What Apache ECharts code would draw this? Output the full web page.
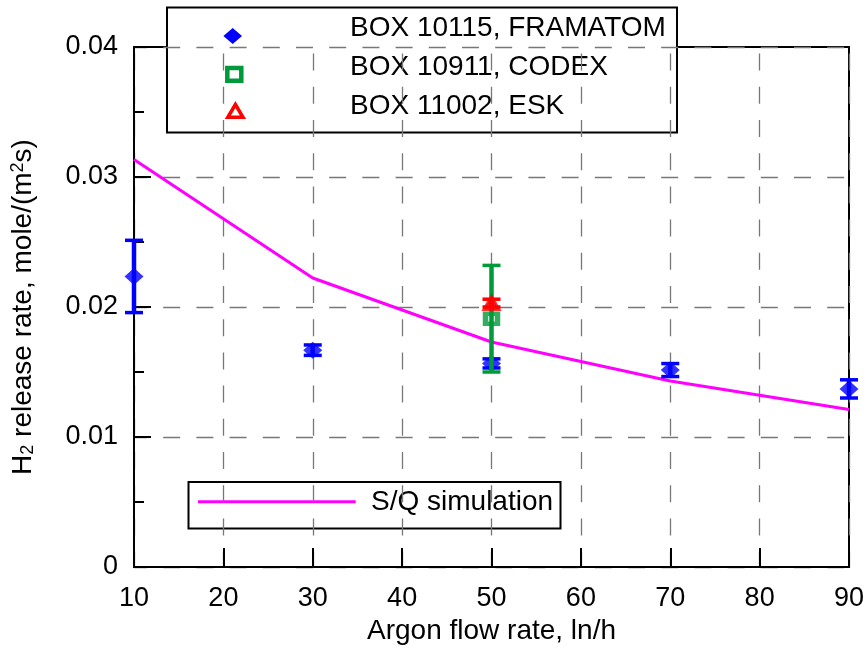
<!DOCTYPE html>
<html>
<head>
<meta charset="utf-8">
<script src="https://cdn.jsdelivr.net/npm/echarts@6/dist/echarts.min.js"></script>
<style>
  html, body { margin: 0; padding: 0; background: #fff; }
  #chart { width: 867px; height: 648px; }
</style>
</head>
<body>
<div id="chart"></div>
<script>
// Argon flow rates (ln/h) at which the boxes were measured
const flowRates = [10, 30, 50, 70, 90];

// BOX 10115, FRAMATOM: H2 release rate and its ± error
const framatomX = [10, 30, 50, 70, 90];
const framatomY = [0.02235, 0.01668, 0.01566, 0.01515, 0.01370];
const framatomErr = [0.00278, 0.0004, 0.00035, 0.0005, 0.0007];

// BOX 10911, CODEX
const codexX = [50];
const codexY = [0.0191];
const codexErr = [0.0041];

// BOX 11002, ESK
const eskX = [50];
const eskY = [0.0203];
const eskErr = [0.0003];

// S/Q simulation curve
const simX = [10, 30, 50, 70, 90];
const simY = [0.03134, 0.02223, 0.01731, 0.01431, 0.01211];

// Axis ticks
const xTicks = [10, 20, 30, 40, 50, 60, 70, 80, 90];
const yTicks = [0, 0.01, 0.02, 0.03, 0.04];

const seriesNames = ['BOX 10115, FRAMATOM', 'BOX 10911, CODEX', 'BOX 11002, ESK'];
const simName = 'S/Q simulation';

const FONT = "'Liberation Sans', Arial, Helvetica, sans-serif";
const BLUE = '#0000ff', GREEN = '#009a3a', RED = '#ff0000', MAGENTA = '#ff00ff';

function zip(xs, ys) { return xs.map((x, i) => [x, ys[i]]); }
function zip3(xs, ys, es) { return xs.map((x, i) => [x, ys[i], es[i]]); }

// vertical error bar with caps, drawn through the axes' scales
function errorBar(color, lw, capLw, capHalf) {
  return function (params, api) {
    const x = api.value(0), y = api.value(1), e = api.value(2);
    const top = api.coord([x, y + e]);
    const bot = api.coord([x, y - e]);
    const st = { stroke: color, lineWidth: lw };
    const cs = { stroke: color, lineWidth: capLw };
    return {
      type: 'group',
      children: [
        { type: 'line', shape: { x1: top[0], y1: top[1], x2: bot[0], y2: bot[1] }, style: st },
        { type: 'line', shape: { x1: top[0] - capHalf, y1: top[1], x2: top[0] + capHalf, y2: top[1] }, style: cs },
        { type: 'line', shape: { x1: bot[0] - capHalf, y1: bot[1], x2: bot[0] + capHalf, y2: bot[1] }, style: cs }
      ]
    };
  };
}

const chart = echarts.init(document.getElementById('chart'), null, { renderer: 'canvas' });

const option = {
  animation: false,
  backgroundColor: '#fff',
  textStyle: { fontFamily: FONT, color: '#000' },
  grid: {
    left: 134, right: 18, top: 47, bottom: 81,
    containLabel: false,
    outerBoundsMode: 'none',
    show: true, borderColor: '#000', borderWidth: 2, backgroundColor: 'transparent'
  },
  xAxis: {
    type: 'value',
    min: xTicks[0], max: xTicks[xTicks.length - 1], interval: xTicks[1] - xTicks[0],
    name: 'Argon flow rate, ln/h',
    nameLocation: 'middle',
    nameGap: 49,
    nameTextStyle: { fontSize: 28, color: '#000', fontFamily: FONT },
    axisLine: { show: true, onZero: false, lineStyle: { color: '#000', width: 2 } },
    axisTick: { show: true, inside: true, length: 19, lineStyle: { color: '#000', width: 2 } },
    axisLabel: { fontSize: 27, color: '#000', margin: 18, fontFamily: FONT },
    splitLine: { show: true, lineStyle: { color: '#777', width: 1.3, type: [17, 16.2], dashOffset: 26.6 } }
  },
  yAxis: {
    type: 'value',
    min: yTicks[0], max: yTicks[yTicks.length - 1], interval: yTicks[1] - yTicks[0],
    name: '{a|H}{sub|2}{a| release rate, mole/(m}{sup|2}{a|s)}',
    nameLocation: 'middle',
    nameRotate: 90,
    nameGap: 97,
    nameTextStyle: {
      fontSize: 28, color: '#000', fontFamily: FONT,
      rich: {
        a: { fontSize: 28, fontFamily: FONT, color: '#000' },
        sub: { fontSize: 18, fontFamily: FONT, color: '#000', verticalAlign: 'bottom', lineHeight: 18, padding: [16, 0, 0, 0] },
        sup: { fontSize: 18, fontFamily: FONT, color: '#000', verticalAlign: 'top', lineHeight: 18, padding: [0, 0, 15, 0] }
      }
    },
    axisLine: { show: true, onZero: false, lineStyle: { color: '#000', width: 2 } },
    axisTick: { show: true, inside: true, length: 17, lineStyle: { color: '#000', width: 2 } },
    minorTick: { show: true, splitNumber: 2, length: 10, lineStyle: { color: '#000', width: 2 } },
    axisLabel: { fontSize: 27, color: '#000', margin: 16, fontFamily: FONT },
    splitLine: { show: true, lineStyle: { color: '#777', width: 1.3, type: [17, 16.2], dashOffset: 4 } }
  },
  series: [
    {
      name: simName, type: 'line', data: zip(simX, simY),
      showSymbol: false, symbol: 'none',
      lineStyle: { color: MAGENTA, width: 3 }, z: 2
    },
    {
      name: seriesNames[0], type: 'scatter', data: zip(framatomX, framatomY),
      symbol: 'diamond', symbolSize: [19, 17],
      itemStyle: { color: BLUE }, z: 3
    },
    {
      type: 'custom', data: zip3(framatomX, framatomY, framatomErr),
      renderItem: errorBar(BLUE, 4.5, 3.5, 9), z: 4, silent: true
    },
    {
      name: seriesNames[1], type: 'scatter', data: zip(codexX, codexY),
      symbol: 'rect', symbolSize: [12, 10],
      itemStyle: { color: 'transparent', borderColor: GREEN, borderWidth: 5 }, z: 5
    },
    {
      type: 'custom', data: zip3(codexX, codexY, codexErr),
      renderItem: errorBar(GREEN, 4.5, 3.5, 9), z: 6, silent: true
    },
    {
      name: seriesNames[2], type: 'scatter', data: zip(eskX, eskY),
      symbol: 'triangle', symbolSize: [15, 13],
      itemStyle: { color: RED, borderColor: RED, borderWidth: 3 }, z: 7
    },
    {
      type: 'custom', data: zip3(eskX, eskY, eskErr),
      renderItem: errorBar(RED, 4.5, 3.5, 9), z: 8, silent: true
    }
  ],
  graphic: [
    // markers legend (upper box)
    {
      type: 'group', z: 100,
      children: [
        { type: 'rect', shape: { x: 167, y: 7.5, width: 510, height: 125 },
          style: { fill: '#fff', stroke: '#000', lineWidth: 2 } },
        { type: 'polygon', shape: { points: [[232.7, 28], [242, 36], [232.7, 44], [223.4, 36]] },
          style: { fill: BLUE } },
        { type: 'rect', shape: { x: 227.3, y: 68, width: 14, height: 12.7 },
          style: { fill: '#fff', stroke: GREEN, lineWidth: 4.5 } },
        { type: 'polygon', shape: { points: [[235.4, 104.5], [243, 117.3], [227.8, 117.3]] },
          style: { fill: '#fff', stroke: RED, lineWidth: 3.5 } },
        { type: 'text', x: 350, y: 28.5,
          style: { text: seriesNames[0], font: "28px " + FONT, fill: '#000', textVerticalAlign: 'middle', verticalAlign: 'middle' } },
        { type: 'text', x: 350, y: 67,
          style: { text: seriesNames[1], font: "28px " + FONT, fill: '#000', textVerticalAlign: 'middle', verticalAlign: 'middle' } },
        { type: 'text', x: 350, y: 106.5,
          style: { text: seriesNames[2], font: "28px " + FONT, fill: '#000', textVerticalAlign: 'middle', verticalAlign: 'middle' } }
      ]
    },
    // simulation legend (lower box)
    {
      type: 'group', z: 100,
      children: [
        { type: 'rect', shape: { x: 188.5, y: 482, width: 372, height: 46.5 },
          style: { fill: '#fff', stroke: '#000', lineWidth: 2 } },
        { type: 'line', shape: { x1: 198, y1: 501.7, x2: 355.7, y2: 501.7 },
          style: { stroke: MAGENTA, lineWidth: 3 } },
        { type: 'text', x: 371, y: 502.5,
          style: { text: simName, font: "28px " + FONT, fill: '#000', textVerticalAlign: 'middle', verticalAlign: 'middle' } }
      ]
    }
  ]
};

chart.setOption(option);
</script>
</body>
</html>
